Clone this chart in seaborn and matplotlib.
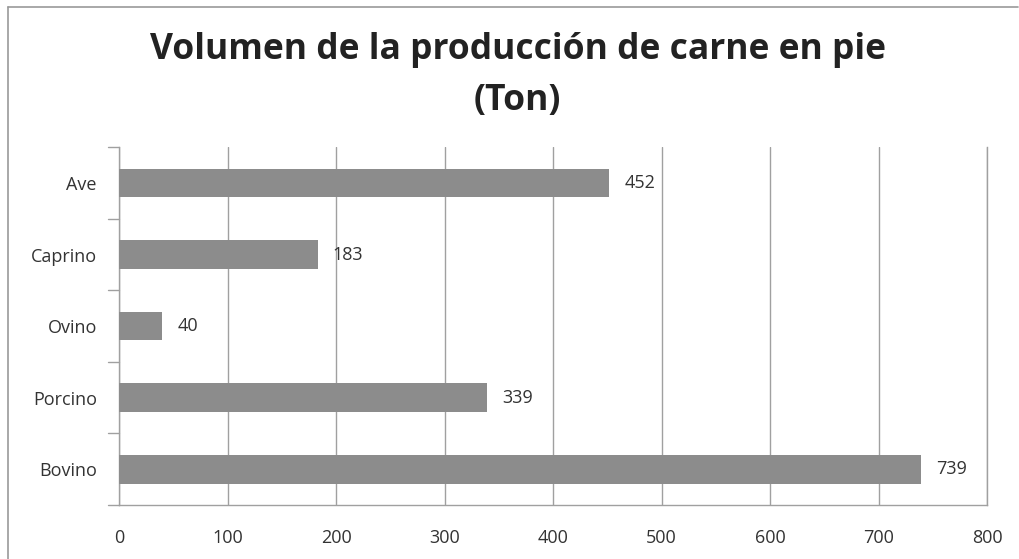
import matplotlib
matplotlib.use("Agg")
import matplotlib.pyplot as plt
import seaborn as sns
import pandas as pd
from matplotlib.lines import Line2D

# data
especies = ["Ave", "Caprino", "Ovino", "Porcino", "Bovino"]
toneladas = [452, 183, 40, 339, 739]
x_ticks = [0, 100, 200, 300, 400, 500, 600, 700, 800]

df = pd.DataFrame({"especie": especies, "ton": toneladas})

sns.set_style("white")
plt.rcParams["font.family"] = ["Open Sans", "DejaVu Sans"]

fig = plt.figure(figsize=(10.19, 5.59), dpi=100)
ax = fig.add_axes([0.1168, 0.0966, 0.8518, 0.640])

sns.barplot(data=df, x="ton", y="especie", orient="h", color="#8c8c8c",
            saturation=1, width=0.4, ax=ax, zorder=3, linewidth=0)

for cont in ax.containers:
    ax.bar_label(cont, labels=[str(v) for v in toneladas], padding=11,
                 fontsize=13, color="#333333")

ax.set_xlim(0, 800)
ax.set_ylim(4.5, -0.5)
ax.set_xticks(x_ticks)
ax.set_xticklabels([str(t) for t in x_ticks], fontsize=13, color="#333333")
ax.tick_params(axis="y", labelsize=13, labelcolor="#333333", length=0, pad=16)
ax.tick_params(axis="x", length=6, width=1, color="#a0a0a0", pad=11, direction="out")
ax.set_xlabel("")
ax.set_ylabel("")
ax.xaxis.grid(True, color="#a0a0a0", linewidth=1, zorder=0)
ax.set_axisbelow(True)

ax.spines["top"].set_visible(False)
for s in ["left", "bottom", "right"]:
    ax.spines[s].set_color("#a0a0a0")
    ax.spines[s].set_linewidth(1)

# category boundary tick marks on the y axis
for b in [-0.5, 0.5, 1.5, 2.5, 3.5, 4.5]:
    ax.plot([-0.013, 0], [b, b], transform=ax.get_yaxis_transform(),
            color="#a0a0a0", linewidth=1, clip_on=False)

fig.text(0.508, 0.91, "Volumen de la producción de carne en pie", ha="center",
         va="center", fontsize=25.5, fontweight="bold", color="#222222")
fig.text(0.508, 0.82, "(Ton)", ha="center", va="center", fontsize=25.5,
         fontweight="bold", color="#222222")

# outer chart border
fig.add_artist(Line2D([0.008, 0.008], [0, 0.9875], color="#999999", linewidth=1.2))
fig.add_artist(Line2D([0.008, 0.999], [0.9875, 0.9875], color="#999999", linewidth=1.2))

fig.savefig("out.png", dpi=100)
